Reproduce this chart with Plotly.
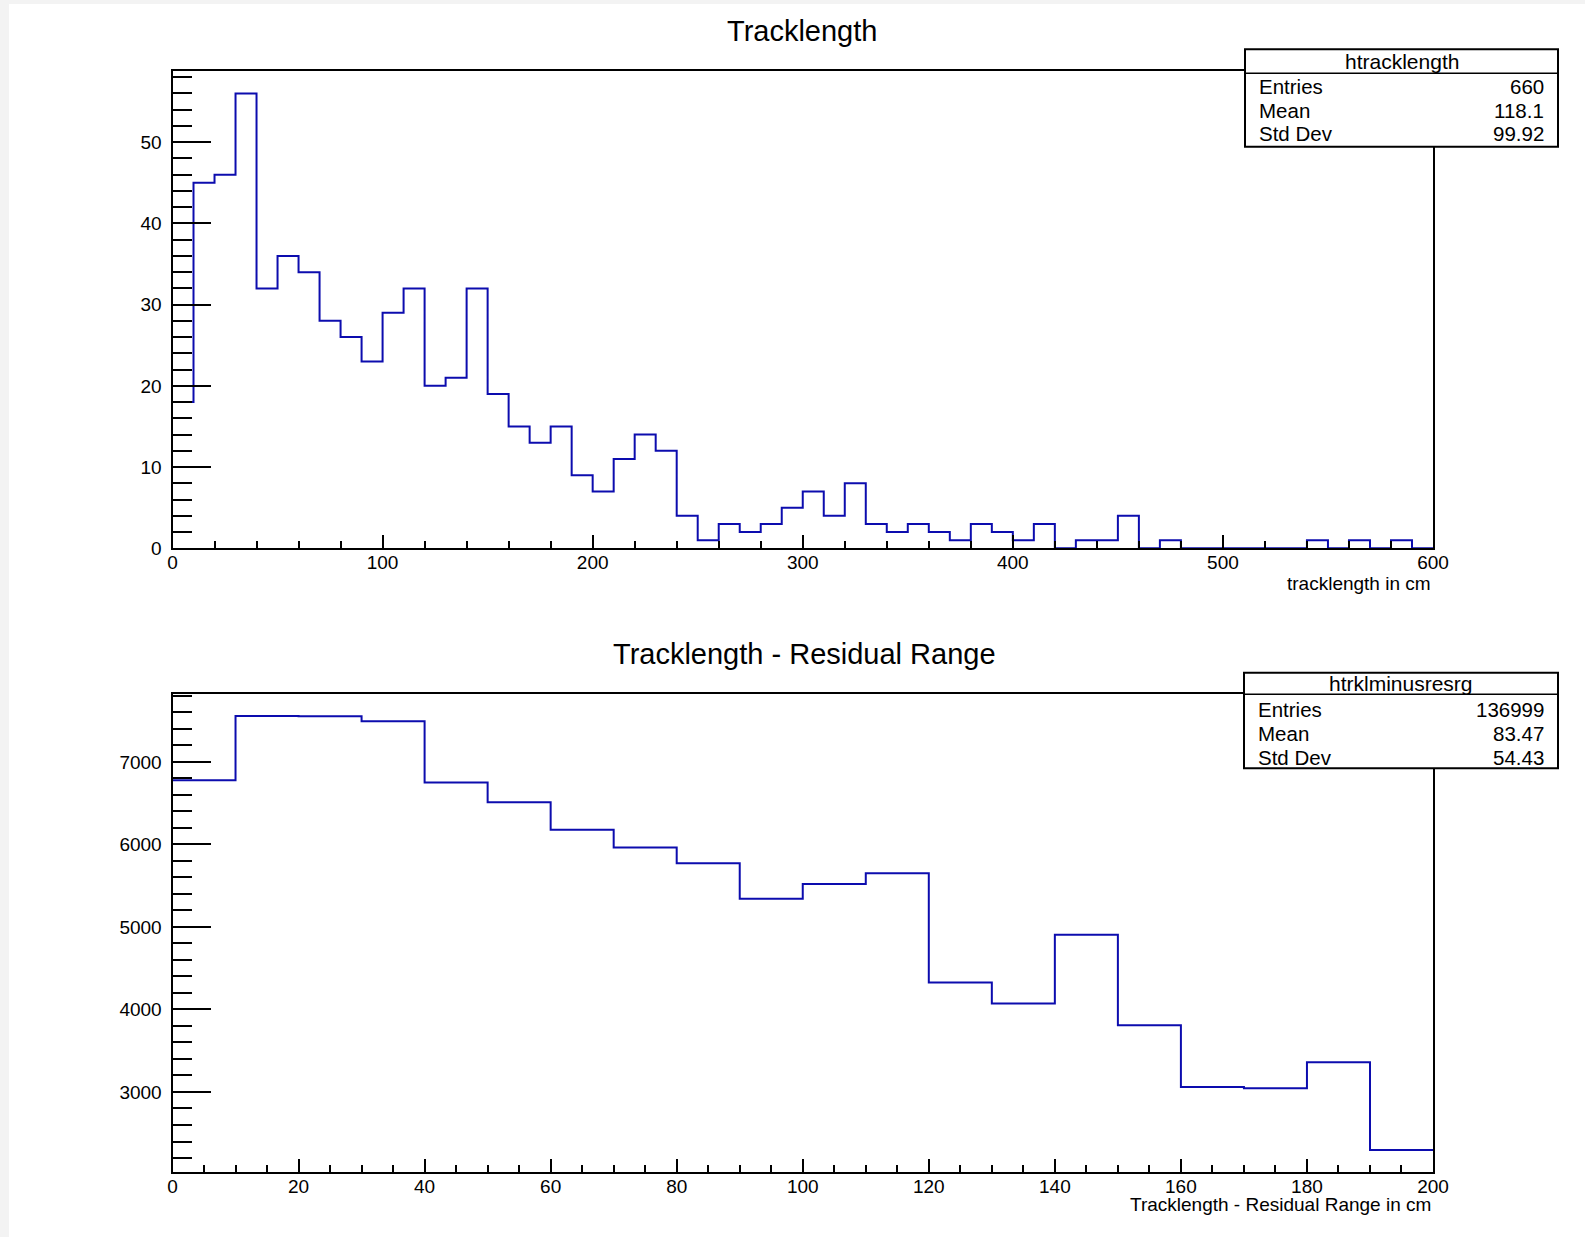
import numpy as np
import plotly.graph_objects as go

# ---- data -------------------------------------------------------------
# htracklength: 60 bins, 0..600 cm
track_lo, track_hi, track_nbins = 0, 600, 60
track_counts = [18, 45, 46, 56, 32, 36, 34, 28, 26, 23,
                29, 32, 20, 21, 32, 19, 15, 13, 15, 9,
                7, 11, 14, 12, 4, 1, 3, 2, 3, 5,
                7, 4, 8, 3, 2, 3, 2, 1, 3, 2,
                1, 3, 0, 1, 1, 4, 0, 1, 0, 0,
                0, 0, 0, 0, 1, 0, 1, 0, 1, 0]

# htrklminusresrg: 20 bins, 0..200 cm
resid_lo, resid_hi, resid_nbins = 0, 200, 20
resid_counts = [6778, 7556, 7552, 7493, 6750, 6510, 6178, 5964, 5771, 5341,
                5520, 5652, 4326, 4072, 4905, 3810, 3061, 3045, 3360, 2297]

stat_labels = ["Entries", "Mean", "Std Dev"]
track_stats = ["660", "118.1", "99.92"]
resid_stats = ["136999", "83.47", "54.43"]

# ---- canvas geometry ---------------------------------------------------
W, H = 1585, 1237
FONT = "Liberation Sans, Arial, Helvetica, sans-serif"
LINE_BLUE = "#0c0cae"


def fx(px):
    return px / W


def fy(py):
    return 1 - py / H


def step_xy(lo, hi, n, counts):
    edges = np.linspace(lo, hi, n + 1)
    return edges, list(counts) + [counts[-1]]


def root_range(counts, zero_floor):
    lo, hi = min(counts), max(counts)
    if zero_floor:
        return [0, hi * 1.05]
    margin = 0.05 * (hi - lo)
    return [lo - margin, hi + margin]


fig = go.Figure()

x1, y1 = step_xy(track_lo, track_hi, track_nbins, track_counts)
fig.add_trace(go.Scatter(x=x1, y=y1, mode="lines", line_shape="hv",
                         line=dict(color=LINE_BLUE, width=2),
                         xaxis="x", yaxis="y", showlegend=False, hoverinfo="skip"))

x2, y2 = step_xy(resid_lo, resid_hi, resid_nbins, resid_counts)
fig.add_trace(go.Scatter(x=x2, y=y2, mode="lines", line_shape="hv",
                         line=dict(color=LINE_BLUE, width=2),
                         xaxis="x2", yaxis="y2", showlegend=False, hoverinfo="skip"))

# frame positions in pixels
L, R = 172.5, 1433
T1, B1 = 70.7, 548.3
T2, B2 = 694.3, 1171.7

tickfont = dict(family=FONT, size=19, color="black")


def xaxis(domain, rng, dtick, mdtick, anchor):
    return dict(domain=domain, range=rng, anchor=anchor, automargin=False,
                showline=True, linecolor="black", linewidth=2, mirror=True,
                ticks="inside", ticklen=13, tickwidth=2, tickcolor="black",
                dtick=dtick, tick0=0, showgrid=False, zeroline=False,
                tickfont=tickfont, ticklabelstandoff=-4,
                minor=dict(ticks="inside", ticklen=7, tickwidth=2,
                           tickcolor="black", dtick=mdtick, tick0=0, showgrid=False))


def yaxis(domain, rng, dtick, mdtick, anchor):
    return dict(domain=domain, range=rng, anchor=anchor, automargin=False,
                showline=True, linecolor="black", linewidth=2, mirror=True,
                ticks="inside", ticklen=38, tickwidth=2, tickcolor="black",
                dtick=dtick, tick0=0, showgrid=False, zeroline=False,
                tickfont=tickfont, ticklabelstandoff=5,
                minor=dict(ticks="inside", ticklen=19, tickwidth=2,
                           tickcolor="black", dtick=mdtick, tick0=0, showgrid=False))


shapes = [
    # thin light strip along the left and top edges of the canvas
    dict(type="rect", xref="paper", yref="paper", x0=fx(9), x1=1, y0=0, y1=fy(4),
         fillcolor="white", line=dict(width=0), layer="below"),
]


def stats_box(left, right, top, sep, bottom, name, values, rows_y):
    shapes.append(dict(type="rect", xref="paper", yref="paper",
                       x0=fx(left), x1=fx(right), y0=fy(bottom), y1=fy(top),
                       fillcolor="white", line=dict(color="black", width=2), layer="above"))
    shapes.append(dict(type="line", xref="paper", yref="paper",
                       x0=fx(left), x1=fx(right), y0=fy(sep), y1=fy(sep),
                       line=dict(color="black", width=1.5), layer="above"))
    anns = [dict(text=name, xref="paper", yref="paper",
                 x=fx((left + right) / 2), y=fy((top + sep) / 2),
                 xanchor="center", yanchor="middle", showarrow=False,
                 font=dict(family=FONT, size=21, color="black"))]
    for lab, val, yy in zip(stat_labels, values, rows_y):
        anns.append(dict(text=lab, xref="paper", yref="paper", x=fx(left + 12), y=fy(yy),
                         xanchor="left", yanchor="middle", showarrow=False,
                         font=dict(family=FONT, size=20.5, color="black")))
        anns.append(dict(text=val, xref="paper", yref="paper", x=fx(right - 12), y=fy(yy),
                         xanchor="right", yanchor="middle", showarrow=False,
                         font=dict(family=FONT, size=20.5, color="black")))
    return anns


annotations = []
annotations += stats_box(1245, 1558, 49.3, 73.3, 146.7, "htracklength", track_stats,
                         [87, 110, 133])
annotations += stats_box(1244, 1558, 672.7, 694.3, 768.3, "htrklminusresrg", resid_stats,
                         [709, 733, 757])

annotations += [
    dict(text="Tracklength", xref="paper", yref="paper", x=fx(802), y=fy(31),
         xanchor="center", yanchor="middle", showarrow=False,
         font=dict(family=FONT, size=29, color="black")),
    dict(text="Tracklength - Residual Range", xref="paper", yref="paper", x=fx(804), y=fy(654),
         xanchor="center", yanchor="middle", showarrow=False,
         font=dict(family=FONT, size=29, color="black")),
    dict(text="tracklength in cm", xref="paper", yref="paper", x=fx(1433), y=fy(583),
         xanchor="right", yanchor="middle", showarrow=False,
         font=dict(family=FONT, size=19, color="black")),
    dict(text="Tracklength - Residual Range in cm", xref="paper", yref="paper", x=fx(1433), y=fy(1204),
         xanchor="right", yanchor="middle", showarrow=False,
         font=dict(family=FONT, size=19, color="black")),
]

fig.update_layout(
    width=W, height=H,
    margin=dict(l=0, r=0, t=0, b=0, pad=0, autoexpand=False),
    paper_bgcolor="#f3f3f3",
    plot_bgcolor="white",
    xaxis=xaxis([fx(L), fx(R)], [track_lo, track_hi], 100, 20, "y"),
    yaxis=yaxis([fy(B1), fy(T1)], root_range(track_counts, True), 10, 2, "x"),
    xaxis2=xaxis([fx(L), fx(R)], [resid_lo, resid_hi], 20, 5, "y2"),
    yaxis2=yaxis([fy(B2), fy(T2)], root_range(resid_counts, False), 1000, 200, "x2"),
    shapes=shapes,
    annotations=annotations,
)

fig.write_html("out.html")
